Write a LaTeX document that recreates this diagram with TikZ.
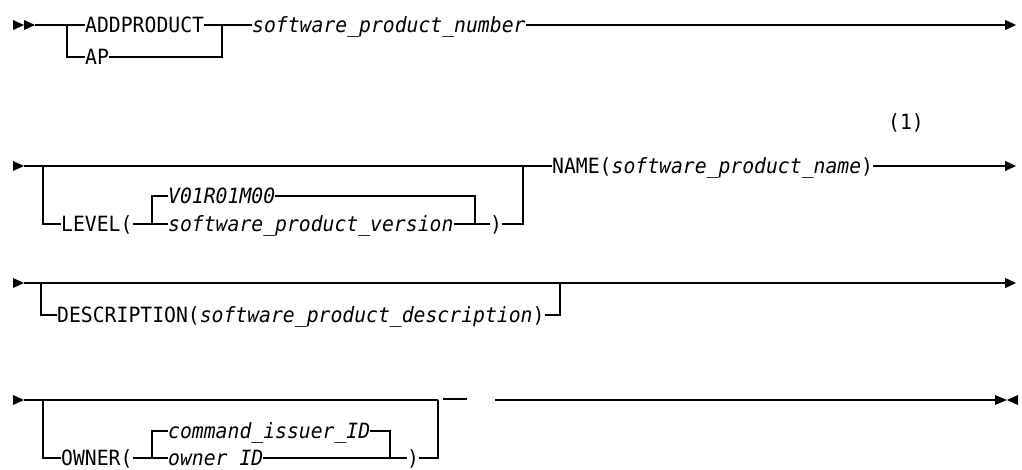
\documentclass[tikz,border=0pt]{standalone}
\usepackage{fontspec}
\setmonofont[FakeStretch=0.94]{DejaVu Sans Mono}
\usetikzlibrary{positioning, arrows.meta}

\tikzset{
  kw/.style={anchor=base west, inner sep=0pt, font=\fontsize{21}{25}\selectfont\ttfamily},
  var/.style={kw, font=\fontsize{21}{25}\selectfont\ttfamily\itshape},
  rail/.style={line width=1.3pt},
  railend/.style={rail, -{Triangle[length=11pt,width=10pt]}},
}

\begin{document}
\begin{tikzpicture}[x=1pt, y=-1pt]
  \useasboundingbox (0,0) rectangle (1022,469);

  % row 1
  \fill (13,20) -- (24,25) -- (13,30) -- cycle;
  \fill (24,20) -- (35,25) -- (24,30) -- cycle;
  \coordinate (r1s) at (35,25);
  \coordinate (r1a) at (67,25);
  \coordinate (r1b) at (67,57);
  \coordinate (r1c) at (222,25);
  \coordinate (r1d) at (222,57);
  \coordinate (r1end) at (1016,25);
  \node[kw] (addp) at (85,32) {ADDPRODUCT};
  \node[kw] (ap) at (85,64) {AP};
  \node[var] (spnum) at (252,32) {software\_product\_number};
  \draw[rail] (r1s) -- (addp.base west |- r1s);
  \draw[rail] (addp.base east |- r1s) -- (r1c) -- (r1d) -- (ap.base east |- r1d);
  \draw[rail] (r1a) -- (r1b) -- (ap.base west |- r1b);
  \draw[rail] (r1c) -- (spnum.base west |- r1c);
  \draw[railend] (spnum.base east |- r1c) -- (r1end);

  % row 2
  \fill (13,161) -- (24,166) -- (13,171) -- cycle;
  \coordinate (r2s) at (24,166);
  \coordinate (r2a) at (43,166);
  \coordinate (r2b) at (43,224);
  \coordinate (r2c) at (152,224);
  \coordinate (r2d) at (152,196);
  \coordinate (r2e) at (475,196);
  \coordinate (r2f) at (475,224);
  \coordinate (r2g) at (523,224);
  \coordinate (r2h) at (523,166);
  \coordinate (r2end) at (1016,166);
  \node[kw] (level) at (61,231) {LEVEL(};
  \node[var] (vdef) at (168,203) {V01R01M00};
  \node[var] (spver) at (168,231) {software\_product\_version};
  \node[kw] (lvlclose) at (490,231) {)};
  \node[kw] (name) at (552,173) {NAME(\textit{software\_product\_name})};
  \node[kw] (note) at (888,129) {(1)};
  \draw[rail] (r2s) -- (r2h) -- (name.base west |- r2h);
  \draw[railend] (name.base east |- r2h) -- (r2end);
  \draw[rail] (r2a) -- (r2b) -- (level.base west |- r2b);
  \draw[rail] (level.base east |- r2b) -- (spver.base west |- r2b);
  \draw[rail] (r2c) -- (r2d) -- (vdef.base west |- r2d);
  \draw[rail] (vdef.base east |- r2d) -- (r2e) -- (r2f);
  \draw[rail] (spver.base east |- r2f) -- (lvlclose.base west |- r2f);
  \draw[rail] (lvlclose.base east |- r2g) -- (r2g) -- (r2h);

  % row 3
  \fill (13,278) -- (24,283) -- (13,288) -- cycle;
  \coordinate (r3s) at (24,283);
  \coordinate (r3a) at (41,283);
  \coordinate (r3b) at (41,315);
  \coordinate (r3c) at (560,315);
  \coordinate (r3d) at (560,283);
  \coordinate (r3end) at (1016,283);
  \node[kw] (desc) at (57,322) {DESCRIPTION(\textit{software\_product\_description})};
  \draw[railend] (r3s) -- (r3end);
  \draw[rail] (r3a) -- (r3b) -- (desc.base west |- r3b);
  \draw[rail] (desc.base east |- r3b) -- (r3c) -- (r3d);

  % row 4
  \fill (13,395) -- (24,400) -- (13,405) -- cycle;
  \coordinate (r4s) at (24,400);
  \coordinate (r4a) at (43,400);
  \coordinate (r4b) at (43,458);
  \coordinate (r4c) at (152,458);
  \coordinate (r4d) at (152,431);
  \coordinate (r4e) at (390,431);
  \coordinate (r4f) at (390,458);
  \coordinate (r4g) at (438,458);
  \coordinate (r4h) at (438,400);
  \coordinate (r4i) at (443,399);
  \coordinate (r4j) at (467,399);
  \coordinate (r4k) at (495,400);
  \coordinate (r4end) at (995,400);
  \node[kw] (owner) at (61,465) {OWNER(};
  \node[var] (cmdid) at (168,438) {command\_issuer\_ID};
  \node[var] (ownid) at (168,465) {owner ID};
  \node[kw] (owclose) at (407,465) {)};
  \draw[rail] (r4s) -- (r4h);
  \draw[rail] (r4i) -- (r4j);
  \draw[rail] (r4k) -- (r4end);
  \fill (995,395) -- (1007,400) -- (995,405) -- cycle;
  \fill (1018,395) -- (1007,400) -- (1018,405) -- cycle;
  \draw[rail] (r4a) -- (r4b) -- (owner.base west |- r4b);
  \draw[rail] (owner.base east |- r4b) -- (ownid.base west |- r4b);
  \draw[rail] (r4c) -- (r4d) -- (cmdid.base west |- r4d);
  \draw[rail] (cmdid.base east |- r4d) -- (r4e) -- (r4f);
  \draw[rail] (ownid.base east |- r4f) -- (owclose.base west |- r4f);
  \draw[rail] (owclose.base east |- r4g) -- (r4g) -- (r4h);
\end{tikzpicture}
\end{document}
